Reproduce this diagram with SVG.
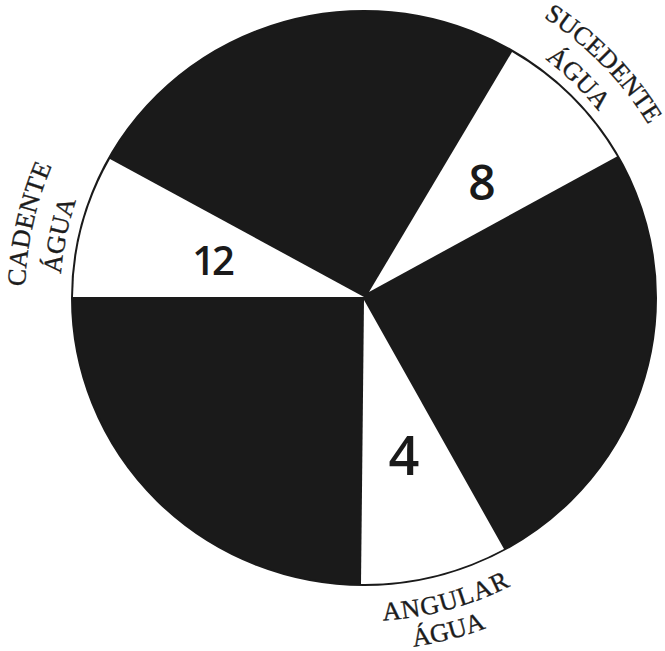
<svg xmlns="http://www.w3.org/2000/svg" width="665" height="651" viewBox="0 0 665 651">
<style>
.lbl{font-family:"Liberation Serif","Times New Roman",serif;font-size:26px;fill:#1c1c1c;stroke:#1c1c1c;stroke-width:0.35}
.num{font-family:"Open Sans","Liberation Sans",Arial,sans-serif;font-weight:600;fill:#1a1a1a;text-anchor:middle}
.wedge{fill:#ffffff;stroke:none}
</style>
<defs>
<path id="pCad1" d="M 45.4 413.9 A 339 339 0 0 1 124.3 58.3" fill="none"/>
<path id="pCad2" d="M 63.3 342.4 A 304 304 0 0 1 105.1 138.7" fill="none"/>
<path id="pSuc1" d="M 453.8 -22.7 A 333 333 0 0 1 686.6 215.5" fill="none"/>
<path id="pSuc2" d="M 463.4 14.95 A 300 300 0 0 1 644.7 192.2" fill="none"/>
<path id="pAng1" d="M 281.8 610.4 A 323 323 0 0 0 593.4 525.4" fill="none"/>
<path id="pAng2" d="M 268.2 636.7 A 352 352 0 0 0 609.4 550.4" fill="none"/>
</defs>
<rect width="665" height="651" fill="#ffffff"/>
<g id="pie">
<ellipse cx="364" cy="298" rx="292" ry="287" fill="#1a1a1a" stroke="#1a1a1a" stroke-width="2"/>
</g>
<g id="cadente">
<path class="wedge" d="M 364 297 L 73 297 A 291 286 0 0 1 110 159 Z"/>
<text class="num" x="212" y="275" font-size="40" letter-spacing="-3">12</text>
<text class="lbl" letter-spacing="0.5"><textPath href="#pCad1" startOffset="50%" text-anchor="middle">CADENTE</textPath></text>
<text class="lbl"><textPath href="#pCad2" startOffset="50%" text-anchor="middle">ÁGUA</textPath></text>
</g>
<g id="sucedente">
<path class="wedge" d="M 369 292 L 512 52 A 291 286 0 0 1 617 156.5 Z"/>
<text class="num" x="482" y="200" font-size="48">8</text>
<text class="lbl"><textPath href="#pSuc1" startOffset="50%" text-anchor="middle">SUCEDENTE</textPath></text>
<text class="lbl"><textPath href="#pSuc2" startOffset="50%" text-anchor="middle">ÁGUA</textPath></text>
</g>
<g id="angular">
<path class="wedge" d="M 364 300 L 504 549 A 291 286 0 0 1 361 584 Z"/>
<text class="num" x="404" y="475" font-size="54">4</text>
<text class="lbl" letter-spacing="1"><textPath href="#pAng1" startOffset="50%" text-anchor="middle">ANGULAR</textPath></text>
<text class="lbl"><textPath href="#pAng2" startOffset="50%" text-anchor="middle">ÁGUA</textPath></text>
</g>
</svg>
